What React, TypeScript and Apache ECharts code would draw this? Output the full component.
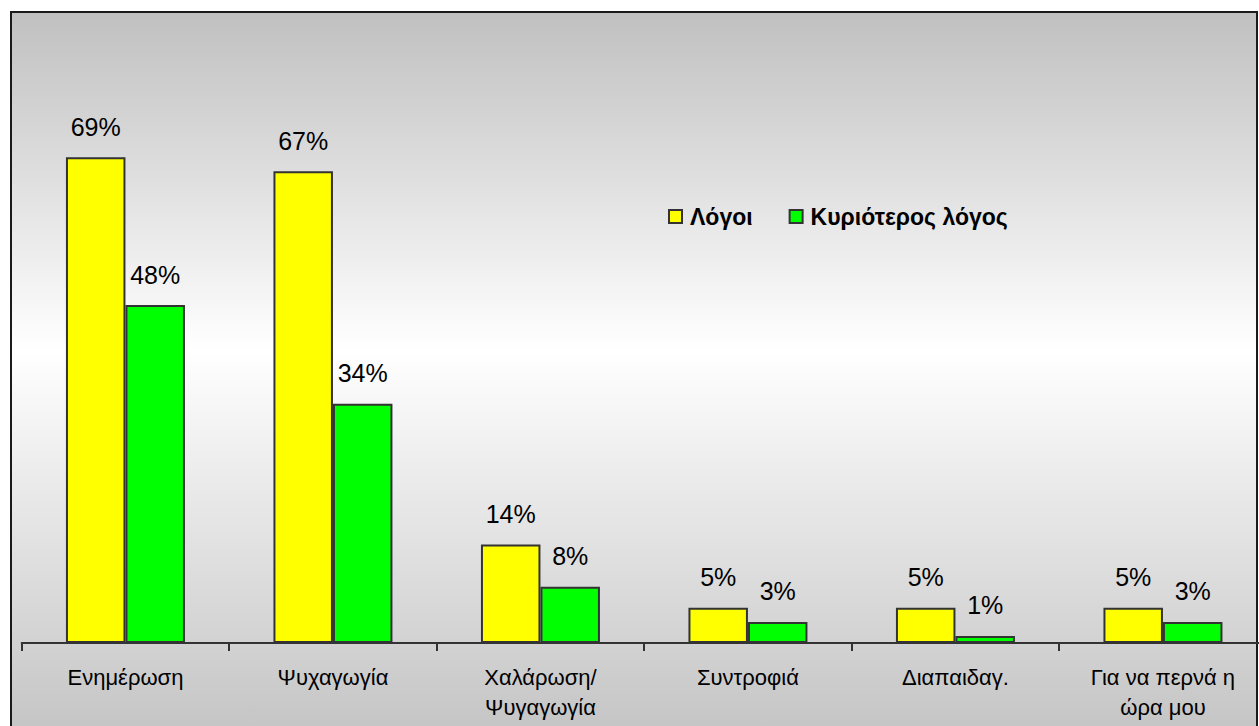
import React, { useEffect, useRef } from "react";
import * as echarts from "echarts";

const categories = [
  "Ενημέρωση",
  "Ψυχαγωγία",
  "Χαλάρωση/\nΨυγαγωγία",
  "Συντροφιά",
  "Διαπαιδαγ.",
  "Για να περνά η\nώρα μου",
];
const seriesNames = ["Λόγοι", "Κυριότερος λόγος"];
const reasons = [69, 67, 14, 5, 5, 5];
const mainReason = [48, 34, 8, 3, 1, 3];
const colors = ["#FFFF00", "#00FF00"];

const FONT = "Arial, 'Liberation Sans', sans-serif";

export default function App() {
  const ref = useRef<HTMLDivElement>(null);
  useEffect(() => {
    if (!ref.current) return;
    const chart = echarts.init(ref.current, undefined, { renderer: "svg" });
    const labelCfg = {
      show: true,
      position: "top",
      distance: 18,
      formatter: "{c}%",
      color: "#000",
      fontSize: 25,
      fontFamily: FONT,
    };
    chart.setOption({
      animation: false,
      backgroundColor: "#fff",
      graphic: [
        {
          type: "rect",
          z: -10,
          silent: true,
          shape: { x: 11, y: 12, width: 1246, height: 750 },
          style: {
            fill: new echarts.graphic.LinearGradient(0, 0, 0, 1, [
              { offset: 0, color: "#C0C0C0" },
              { offset: 0.45, color: "#FFFFFF" },
              { offset: 1, color: "#C0C0C0" },
            ]),
            stroke: "#1a1a1a",
            lineWidth: 2,
          },
        },
      ],
      legend: {
        left: 668,
        top: 205,
        padding: 0,
        itemWidth: 13,
        itemHeight: 13,
        itemGap: 36,
        icon: "rect",
        textStyle: {
          fontSize: 23,
          fontWeight: "bold",
          fontFamily: FONT,
          color: "#000",
          padding: [0, 0, 0, 3],
        },
        data: seriesNames,
      },
      grid: {
        left: 21.7,
        top: 79.8,
        width: 1245,
        height: 563.2,
        containLabel: false,
        outerBoundsMode: "none",
      },
      xAxis: {
        type: "category",
        data: categories,
        boundaryGap: true,
        axisLine: { show: true, lineStyle: { color: "#333", width: 2 } },
        axisTick: { show: true, length: 8, lineStyle: { color: "#333", width: 2 } },
        axisLabel: {
          interval: 0,
          margin: 19.5,
          color: "#000",
          fontSize: 22,
          lineHeight: 30,
          fontFamily: FONT,
        },
      },
      yAxis: {
        type: "value",
        min: 0,
        max: 80,
        show: false,
        splitLine: { show: false },
      },
      series: [
        {
          name: seriesNames[0],
          type: "bar",
          data: reasons,
          barWidth: 59.5,
          barGap: "0%",
          itemStyle: { color: colors[0], borderColor: "#333", borderWidth: 2 },
          label: labelCfg,
        },
        {
          name: seriesNames[1],
          type: "bar",
          data: mainReason,
          barWidth: 59.5,
          barGap: "0%",
          itemStyle: { color: colors[1], borderColor: "#333", borderWidth: 2 },
          label: labelCfg,
        },
      ],
    });
    return () => chart.dispose();
  }, []);
  return (
    <div
      ref={ref}
      style={{ position: "fixed", left: 0, top: 0, width: 1259, height: 726 }}
    />
  );
}
